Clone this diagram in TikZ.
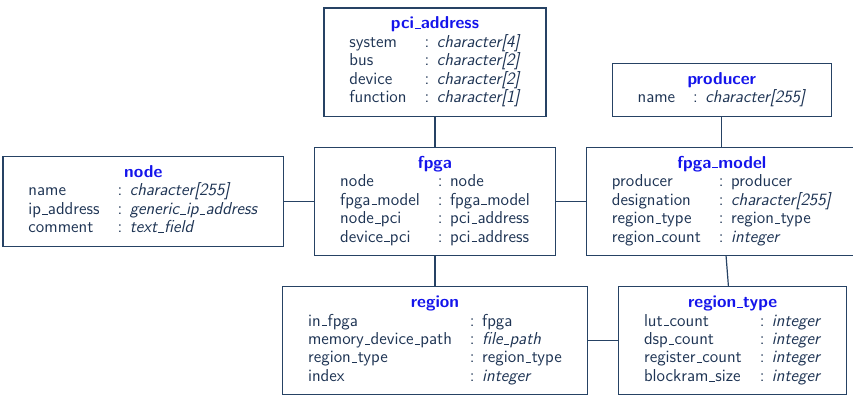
\documentclass[tikz,border=0pt]{standalone}
\usepackage{xcolor}
\usepackage{tikz}
\usetikzlibrary{positioning}

\definecolor{entitytext}{RGB}{30,52,84}
\definecolor{entityline}{RGB}{38,66,100}
\definecolor{entitytitle}{RGB}{20,20,235}

% table heading, centred over both columns
\newcommand{\etitle}[1]{\multicolumn{2}{c}{\color{entitytitle}\bfseries #1}}
% short low underscore, as in the old cm fonts
\newcommand{\usc}{\leavevmode\kern.06em\vbox{\hrule width.32em height.5pt}\kern.02em}

\tikzset{
  entity/.style={draw=entityline, line width=0.8pt, text=entitytext,
    font=\fontsize{11.5}{12.3}\selectfont\sffamily, inner xsep=11pt, inner ysep=5.3pt},
  link/.style={draw=entityline, line width=0.8pt}
}

\begin{document}
\begin{tikzpicture}
    \useasboundingbox (-290pt,134.3pt) rectangle (278.7pt,-131pt);

    \node[entity] (fpga) {\begin{tabular}{l@{\hspace{12pt}:\hspace{5pt}}l}
      \etitle{fpga}\\
      node & node\\
      fpga\usc model & fpga\usc model\\
      node\usc pci & pci\usc address\\
      device\usc pci & pci\usc address
    \end{tabular}};

    \node[entity, above=20pt of fpga] (pci) {\begin{tabular}{l@{\hspace{12pt}:\hspace{5pt}}l}
      \etitle{pci\usc address}\\
      system & \textit{character[4]}\\
      bus & \textit{character[2]}\\
      device & \textit{character[2]}\\
      function & \textit{character[1]}
    \end{tabular}};

    \node[entity, left=20pt of fpga] (host) {\begin{tabular}{l@{\hspace{12pt}:\hspace{5pt}}l}
      \etitle{node}\\
      name & \textit{character[255]}\\
      ip\usc address & \textit{generic\usc ip\usc address}\\
      comment & \textit{text\usc field}
    \end{tabular}};

    \node[entity, right=20pt of fpga] (model) {\begin{tabular}{l@{\hspace{12pt}:\hspace{5pt}}l}
      \etitle{fpga\usc model}\\
      producer & producer\\
      designation & \textit{character[255]}\\
      region\usc type & region\usc type\\
      region\usc count & \textit{integer}
    \end{tabular}};

    \node[entity, above=20pt of model] (producer) {\begin{tabular}{l@{\hspace{12pt}:\hspace{5pt}}l}
      \etitle{producer}\\
      name & \textit{character[255]}
    \end{tabular}};

    \node[entity, below=20pt of fpga] (region) {\begin{tabular}{l@{\hspace{12pt}:\hspace{5pt}}l}
      \etitle{region}\\
      in\usc fpga & fpga\\
      memory\usc device\usc path & \textit{file\usc path}\\
      region\usc type & region\usc type\\
      index & \textit{integer}
    \end{tabular}};

    \node[entity, right=20pt of region] (rtype) {\begin{tabular}{l@{\hspace{12pt}:\hspace{5pt}}l}
      \etitle{region\usc type}\\
      lut\usc count & \textit{integer}\\
      dsp\usc count & \textit{integer}\\
      register\usc count & \textit{integer}\\
      blockram\usc size & \textit{integer}
    \end{tabular}};

    \draw[link] (pci) -- (fpga);
    \draw[link] (host) -- (fpga);
    \draw[link] (fpga) -- (model);
    \draw[link] (producer) -- (model);
    \draw[link] (fpga) -- (region);
    \draw[link] (model) -- (rtype);
    \draw[link] (region) -- (rtype);
\end{tikzpicture}
\end{document}
